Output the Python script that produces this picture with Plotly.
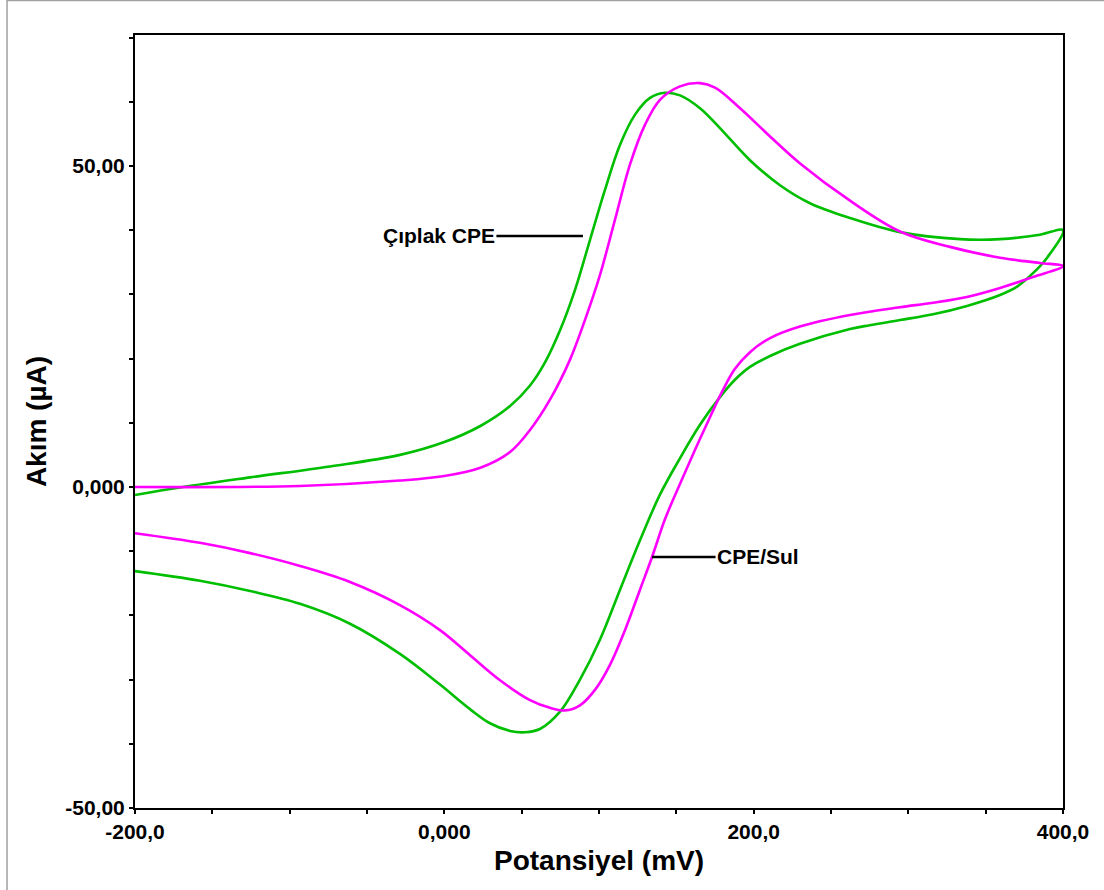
import plotly.graph_objects as go

# ---- data (potential in mV, current in µA) ----
bare_fwd_x = [-200, -169, -125.6, -73.9, -28.7, 0, 23.3, 42.5, 55.4, 65.1, 74.8, 84.5, 94.2, 103.9,
              113.6, 123.3, 133.0, 142.7, 152.4, 165.3, 178.2, 197.6, 217.0, 236.4, 262.3, 294.6,
              333.4, 359.3, 385.1, 400]
bare_fwd_y = [-1.25, 0, 1.5, 3.2, 5.0, 7.0, 9.5, 12.6, 15.8, 19.4, 24.4, 30.7, 38.5, 46.3,
              53.3, 58.0, 60.6, 61.4, 61.0, 59.0, 55.9, 50.9, 47.0, 44.2, 41.9, 39.7,
              38.6, 38.6, 39.3, 40.0]
bare_rev_x = [400, 390.0, 380.6, 370.3, 359.3, 337.9, 316.0, 294.6, 275.0, 262.3, 229.9, 210.6, 197.6,
              187.9, 178.2, 165.3, 152.4, 139.4, 126.5, 113.6, 100.6, 87.7, 74.8, 61.8, 52.2, 42.5,
              29.5, 16.6, -3.2, -28.7, -61.0, -93.3, -125.6, -158.0, -200]
bare_rev_y = [40.0, 35.8, 33.3, 31.2, 29.9, 28.2, 26.9, 26.0, 25.2, 24.6, 22.3, 20.4, 18.7,
              16.7, 14.0, 9.7, 4.5, -1.2, -8.3, -16.0, -23.8, -30.0, -35.0, -37.7, -38.2, -38.0,
              -36.8, -34.6, -30.7, -26.0, -21.3, -18.2, -16.2, -14.6, -13.1]

sul_fwd_x = [-200, -93.3, -28.7, 0, 23.3, 42.5, 55.4, 68.3, 81.2, 90.9, 100.6, 110.3, 120.0, 129.7,
             139.4, 152.4, 165.3, 175.0, 191.2, 210.6, 230.0, 262.3, 294.6, 326.9, 359.3, 385.1, 400]
sul_fwd_y = [0, 0.16, 1.0, 1.71, 3.0, 5.45, 8.88, 13.6, 19.8, 26.0, 33.0, 41.6, 50.2, 56.4,
             60.3, 62.4, 62.9, 62.2, 59.0, 54.6, 50.4, 44.6, 39.8, 37.4, 35.7, 34.9, 34.4]
sul_rev_x = [400, 380.6, 359.3, 337.9, 316.0, 294.6, 262.3, 229.9, 210.6, 197.6, 187.9, 179.5, 171.8,
             162.1, 152.4, 142.7, 134.3, 126.5, 116.8, 107.1, 97.4, 87.7, 78.0, 68.3, 55.4, 36.0,
             16.6, -2.8, -28.7, -61.0, -93.3, -125.6, -158.0, -200]
sul_rev_y = [34.4, 32.7, 31.0, 29.6, 28.7, 28.0, 26.8, 25.0, 23.2, 21.0, 18.4, 14.8, 10.9,
             5.8, 0.5, -5.0, -10.9, -16.0, -22.3, -27.7, -31.6, -34.0, -34.8, -34.4, -33.2, -30.1,
             -26.2, -22.3, -18.4, -14.8, -12.3, -10.3, -8.7, -7.2]

x_tick_vals = [-200, -150, -100, -50, 0, 50, 100, 150, 200, 250, 300, 350, 400]
x_tick_text = ["-200,0", "", "", "", "0,000", "", "", "", "200,0", "", "", "", "400,0"]
y_tick_vals = [-50, -40, -30, -20, -10, 0, 10, 20, 30, 40, 50, 60, 70]
y_tick_text = ["-50,00", "", "", "", "", "0,000", "", "", "", "", "50,00", "", ""]

label_bare = "Çıplak CPE"
label_sul = "CPE/Sul"
label_bare_point = (89.6, 39.1)
label_sul_point = (134.3, -10.9)

GREEN = "#00BE00"
MAGENTA = "#FF00FF"
FONT = "Liberation Sans, Arial, sans-serif"

fig = go.Figure()
fig.add_trace(go.Scatter(x=bare_fwd_x + bare_rev_x[1:], y=bare_fwd_y + bare_rev_y[1:],
                         mode="lines", line=dict(color=GREEN, width=2.6, shape="spline", smoothing=1.0),
                         name=label_bare, showlegend=False))
fig.add_trace(go.Scatter(x=sul_fwd_x + sul_rev_x[1:], y=sul_fwd_y + sul_rev_y[1:],
                         mode="lines", line=dict(color=MAGENTA, width=2.6, shape="spline", smoothing=1.0),
                         name=label_sul, showlegend=False))

fig.add_annotation(x=label_bare_point[0], y=label_bare_point[1], text=label_bare,
                   showarrow=True, arrowhead=0, arrowwidth=2.5, arrowcolor="black",
                   ax=-144, ay=0, font=dict(family=FONT, size=21, color="black", weight="bold"))
fig.add_annotation(x=label_sul_point[0], y=label_sul_point[1], text=label_sul,
                   showarrow=True, arrowhead=0, arrowwidth=2.5, arrowcolor="black",
                   ax=106, ay=0, font=dict(family=FONT, size=21, color="black", weight="bold"))

# outer gray frame of the picture
fig.add_shape(type="line", xref="paper", yref="paper", x0=-0.1379, x1=-0.1379, y0=-0.2, y1=1.1,
              line=dict(color="#A0A0A0", width=1.5))
fig.add_shape(type="line", xref="paper", yref="paper", x0=-0.1379, x1=1.1, y0=1.0446, y1=1.0446,
              line=dict(color="#A0A0A0", width=1.5))

axis_common = dict(showgrid=False, zeroline=False, showline=True, mirror=True, linecolor="black",
                   linewidth=2, ticks="outside", ticklen=4, tickwidth=2, tickcolor="black",
                   tickfont=dict(family=FONT, size=21, color="black", weight="bold"))

fig.update_xaxes(range=[-200, 400], tickmode="array", tickvals=x_tick_vals, ticktext=x_tick_text,
                 title=dict(text="Potansiyel (mV)",
                            font=dict(family=FONT, size=28, color="black", weight="bold"),
                            standoff=8),
                 **axis_common)
fig.update_yaxes(range=[-50, 70.4], tickmode="array", tickvals=y_tick_vals, ticktext=y_tick_text,
                 title=dict(text="Akım (µA)",
                            font=dict(family=FONT, size=28, color="black", weight="bold"),
                            standoff=10),
                 **axis_common)
fig.update_layout(width=1104, height=890, margin=dict(l=135, r=41, t=35, b=82, autoexpand=False),
                  paper_bgcolor="white", plot_bgcolor="white",
                  font=dict(family=FONT, color="black"))

fig.write_html("out.html")
